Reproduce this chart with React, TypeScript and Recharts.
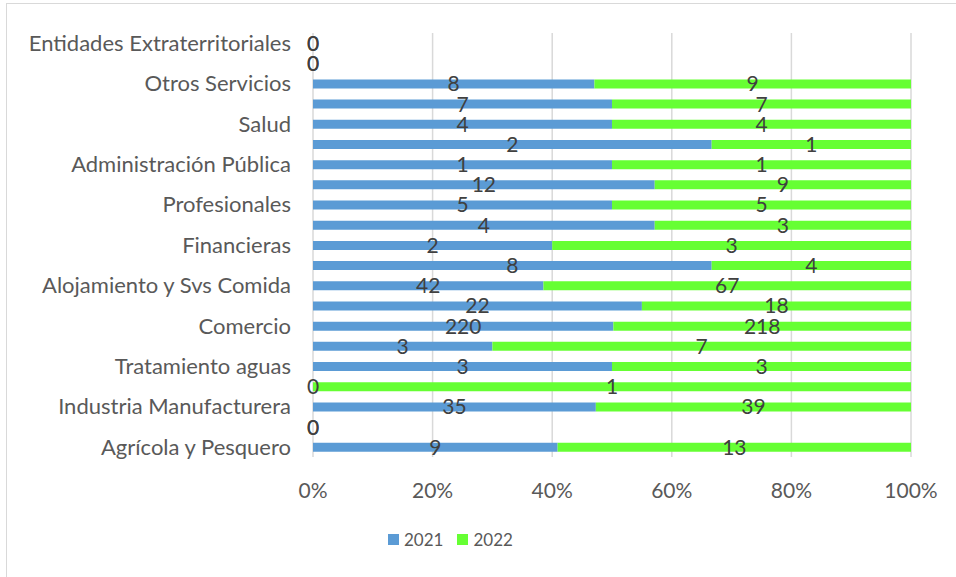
import { Bar, BarChart, CartesianGrid, LabelList, Legend, XAxis, YAxis } from "recharts";

const sectors = [
  "Entidades Extraterritoriales",
  "Hogares",
  "Otros Servicios",
  "Artes y Entretenimiento",
  "Salud",
  "Enseñanza",
  "Administración Pública",
  "Servicios Administrativos",
  "Profesionales",
  "Inmobiliarias",
  "Financieras",
  "Información y Comunicaciones",
  "Alojamiento y Svs Comida",
  "Transporte",
  "Comercio",
  "Construcción",
  "Tratamiento aguas",
  "Electricidad",
  "Industria Manufacturera",
  "Minería",
  "Agrícola y Pesquero",
];
const v2021 = [0, 0, 8, 7, 4, 2, 1, 12, 5, 4, 2, 8, 42, 22, 220, 3, 3, 0, 35, 0, 9];
const v2022 = [0, 0, 9, 7, 4, 1, 1, 9, 5, 3, 3, 4, 67, 18, 218, 7, 3, 1, 39, 0, 13];
const xTicks = [0, 0.2, 0.4, 0.6, 0.8, 1];

const data = sectors.map((name, i) => ({ name, y2021: v2021[i], y2022: v2022[i] }));

const AXIS_GRAY = "#595959";
const LABEL_GRAY = "#404040";
const GRID = "#d9d9d9";

function LegendBox({ payload }: { payload?: { value: string; color: string }[] }) {
  return (
    <div style={{ display: "flex", alignItems: "center", fontSize: 17, color: AXIS_GRAY, whiteSpace: "nowrap" }}>
      {(payload ?? []).map((p) => (
        <span key={p.value} style={{ display: "inline-flex", alignItems: "center", marginRight: 14 }}>
          <span style={{ display: "inline-block", width: 11, height: 11, background: p.color, marginRight: 5 }} />
          {p.value}
        </span>
      ))}
    </div>
  );
}

export default function App() {
  return (
    <div style={{ position: "absolute", left: 0, top: 0, width: 956, height: 577, overflow: "hidden", background: "#fff", fontFamily: "Lato, sans-serif" }}>
      <div style={{ position: "absolute", left: 6, top: 3, width: 1000, height: 700, border: `1px solid ${GRID}` }} />
      <BarChart
        width={956}
        height={577}
        data={data}
        layout="vertical"
        stackOffset="expand"
        margin={{ top: 33, right: 45, bottom: 80, left: 0 }}
        style={{ position: "absolute", left: 0, top: 0 }}
      >
        <CartesianGrid horizontal={false} stroke={GRID} strokeWidth={1.5} />
        <XAxis
          type="number"
          domain={[0, 1]}
          ticks={xTicks}
          tickFormatter={(v: number) => `${Math.round(v * 100)}%`}
          axisLine={false}
          tickLine={false}
          tickMargin={20}
          height={40}
          tick={{ fill: AXIS_GRAY, fontSize: 21 }}
        />
        <YAxis
          type="category"
          dataKey="name"
          width={313}
          interval={1}
          axisLine={false}
          tickLine={false}
          tickMargin={16}
          tick={{ fill: AXIS_GRAY, fontSize: 22 }}
        />
        <Legend
          verticalAlign="middle"
          content={(props: any) => <LegendBox payload={props.payload} />}
          wrapperStyle={{ left: 388, top: 529, width: "auto", height: 24 }}
        />
        <Bar dataKey="y2021" name="2021" stackId="a" fill="#5B9BD5" barSize={9} minPointSize={0.01} isAnimationActive={false}>
          <LabelList dataKey="y2021" position="center" fill={LABEL_GRAY} fontSize={21} />
        </Bar>
        <Bar dataKey="y2022" name="2022" stackId="a" fill="#66FF33" barSize={9} minPointSize={0.01} isAnimationActive={false}>
          <LabelList dataKey="y2022" position="center" fill={LABEL_GRAY} fontSize={21} />
        </Bar>
      </BarChart>
    </div>
  );
}
